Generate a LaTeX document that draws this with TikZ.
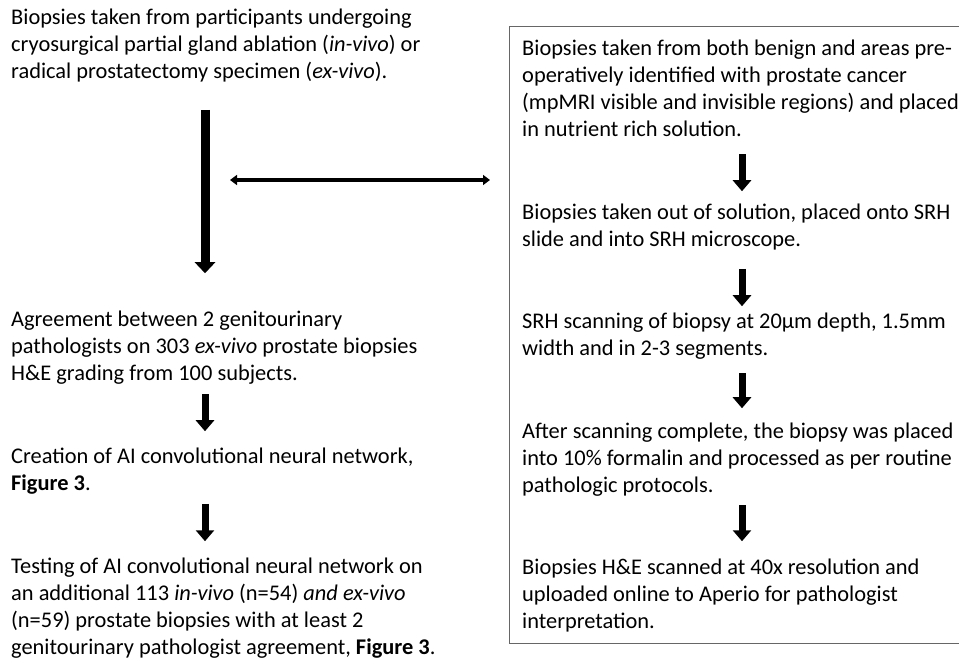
\documentclass[tikz,border=0pt]{standalone}
\usepackage{fontspec}
\setmainfont{Carlito}
\usetikzlibrary{arrows.meta,positioning,calc}

\begin{document}
\begin{tikzpicture}[
  x=1pt, y=-1pt,
  font=\fontsize{22.4}{27}\selectfont,
  txt/.style={anchor=base west, align=flush left, inner sep=0pt, text width=450pt},
  fat/.style={-{Triangle[width=20pt,length=11pt]}, line width=9pt},
  slim/.style={-{Triangle[width=18pt,length=11pt]}, line width=7pt},
  dbl/.style={{Triangle[width=10pt,length=7pt]}-{Triangle[width=10pt,length=7pt]}, line width=4pt},
  panel/.style={draw=black!60, line width=1pt}
]
  \useasboundingbox (0,0) rectangle (959,658);
  \clip (0,0) rectangle (959,658);
  \coordinate (laxis) at (205,0);
  \coordinate (raxis) at (742,0);

  % left column
  \node[txt] (l1) at (11,25) {Biopsies taken from participants undergoing\\
    cryosurgical partial gland ablation (\emph{in-vivo}) or\\
    radical prostatectomy specimen (\emph{ex-vivo}).};
  \node[txt] (l2) at (11,326) {Agreement between 2 genitourinary\\
    pathologists on 303 \emph{ex-vivo} prostate biopsies\\
    H\&E grading from 100 subjects.};
  \node[txt] (l3) at (11,463) {Creation of AI convolutional neural network,\\
    \textbf{Figure 3}.};
  \node[txt] (l4) at (11,573) {Testing of AI convolutional neural network on\\
    an additional 113 \emph{in-vivo} (n=54) \emph{and ex-vivo}\\
    (n=59) prostate biopsies with at least 2\\
    genitourinary pathologist agreement, \textbf{Figure 3}.};

  % right panel
  \draw[panel] (509,27) rectangle (962,643);
  \coordinate (lab) at (509,180);
  \node[txt] (r1) at (522,56) {Biopsies taken from both benign and areas pre-\\
    operatively identified with prostate cancer\\
    (mpMRI visible and invisible regions) and placed\\
    in nutrient rich solution.};
  \node[txt] (r2) at (522,219) {Biopsies taken out of solution, placed onto SRH\\
    slide and into SRH microscope.};
  \node[txt] (r3) at (522,328) {SRH scanning of biopsy at 20µm depth, 1.5mm\\
    width and in 2-3 segments.};
  \node[txt] (r4) at (522,438) {After scanning complete, the biopsy was placed\\
    into 10\% formalin and processed as per routine\\
    pathologic protocols.};
  \node[txt] (r5) at (522,574) {Biopsies H\&E scanned at 40x resolution and\\
    uploaded online to Aperio for pathologist\\
    interpretation.};

  % arrows
  \draw[fat, shorten <=27pt, shorten >=37pt] (l1.south -| laxis) -- (l2.north -| laxis);
  \draw[slim, shorten <=10pt, shorten >=16pt] (l2.south -| laxis) -- (l3.north -| laxis);
  \draw[slim, shorten <=10pt, shorten >=16pt] (l3.south -| laxis) -- (l4.north -| laxis);
  \draw[dbl, shorten >=19pt] (lab -| laxis) ++(25,0) coordinate (hl) (hl) -- (lab);
  \draw[slim, shorten <=17pt, shorten >=12pt] (r1.south -| raxis) -- (r2.north -| raxis);
  \draw[slim, shorten <=19pt, shorten >=6pt] (r2.south -| raxis) -- (r3.north -| raxis);
  \draw[slim, shorten <=14pt, shorten >=14pt] (r3.south -| raxis) -- (r4.north -| raxis);
  \draw[slim, shorten <=9pt, shorten >=17pt] (r4.south -| raxis) -- (r5.north -| raxis);
\end{tikzpicture}
\end{document}
